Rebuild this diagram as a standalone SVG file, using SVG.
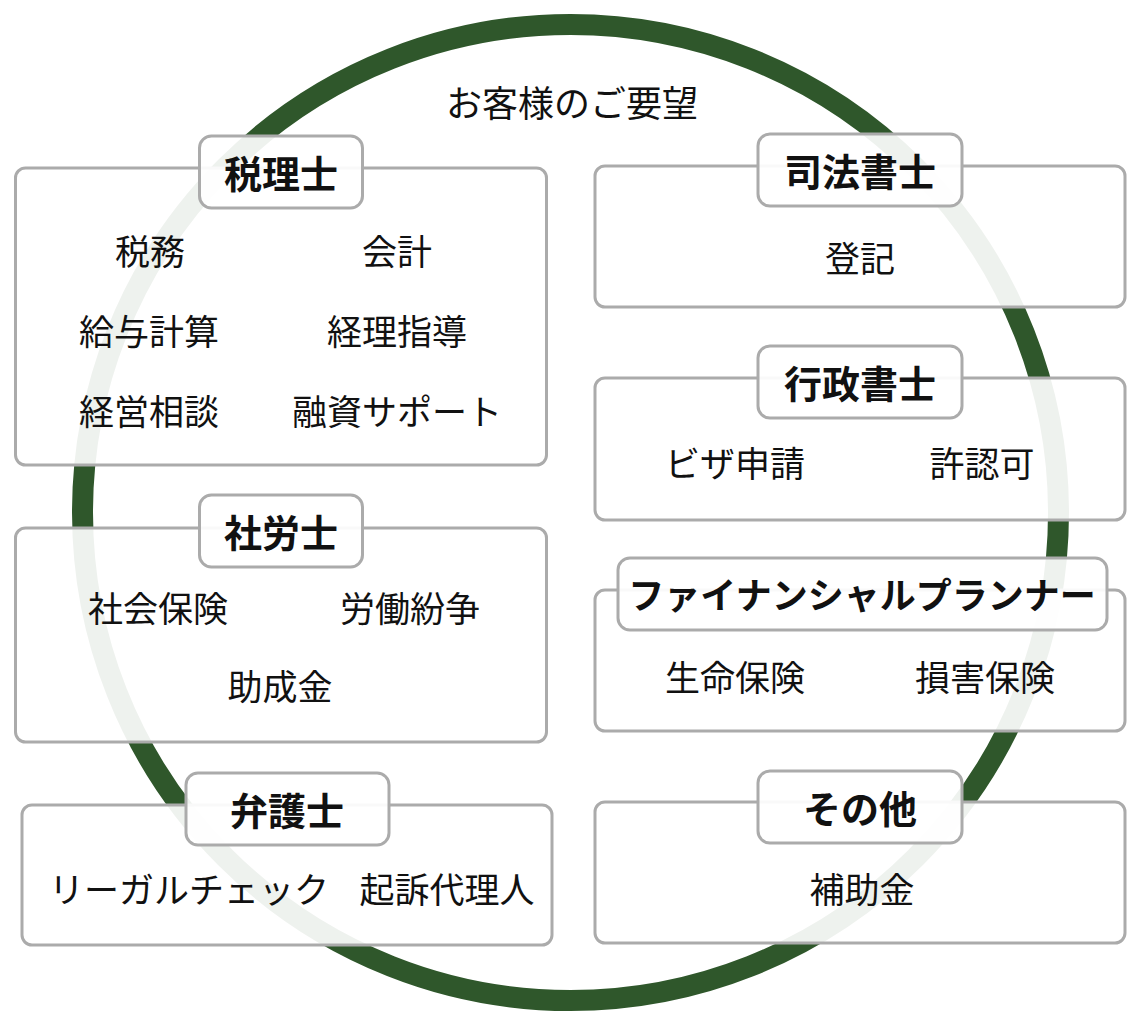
<svg xmlns="http://www.w3.org/2000/svg" width="1141" height="1026" viewBox="0 0 1141 1026">
<style>
.box{fill:#ffffff;fill-opacity:0.92;stroke:#ababab;stroke-width:3}
.lbl{fill:#ffffff;fill-opacity:0.92;stroke:#ababab;stroke-width:3}
.t{font-family:"Noto Sans CJK JP","Noto Sans CJK SC",sans-serif;font-size:35px;fill:#111;text-anchor:middle;dominant-baseline:central}
.h{font-family:"Noto Sans CJK JP","Noto Sans CJK SC",sans-serif;font-size:38px;font-weight:700;fill:#111;text-anchor:middle;dominant-baseline:central}
</style>
<rect width="1141" height="1026" fill="#ffffff"/>
<g id="ring">
<circle cx="570.5" cy="512.5" r="488" fill="none" stroke="#2f572b" stroke-width="21"/>
<text class="t" x="572" y="101" style="font-size:36px">お客様のご要望</text>
</g>
<g id="zeirishi">
<rect class="box" x="15.5" y="168" width="531" height="297" rx="10"/>
<rect class="lbl" x="199.5" y="136" width="163" height="72" rx="12"/>
<text class="h" x="281" y="171">税理士</text>
<text class="t" x="150" y="249">税務</text>
<text class="t" x="397" y="249">会計</text>
<text class="t" x="149" y="329">給与計算</text>
<text class="t" x="397" y="329">経理指導</text>
<text class="t" x="149" y="409">経営相談</text>
<text class="t" x="397" y="409">融資サポート</text>
</g>
<g id="sharoushi">
<rect class="box" x="15.5" y="528" width="531" height="214" rx="10"/>
<rect class="lbl" x="199.5" y="495" width="163" height="72" rx="12"/>
<text class="h" x="281" y="530">社労士</text>
<text class="t" x="158" y="606">社会保険</text>
<text class="t" x="410" y="606">労働紛争</text>
<text class="t" x="280" y="684">助成金</text>
</g>
<g id="bengoshi">
<rect class="box" x="22" y="805" width="530" height="140" rx="10"/>
<rect class="lbl" x="186" y="773" width="203" height="72" rx="12"/>
<text class="h" x="287" y="808">弁護士</text>
<text class="t" x="189" y="887">リーガルチェック</text>
<text class="t" x="447" y="887">起訴代理人</text>
</g>
<g id="shihoushoshi">
<rect class="box" x="595" y="166" width="530" height="141" rx="10"/>
<rect class="lbl" x="758" y="134" width="204" height="72" rx="12"/>
<text class="h" x="860" y="169">司法書士</text>
<text class="t" x="860" y="256">登記</text>
</g>
<g id="gyouseishoshi">
<rect class="box" x="595" y="378" width="530" height="142" rx="10"/>
<rect class="lbl" x="758" y="346" width="204" height="72" rx="12"/>
<text class="h" x="860" y="381">行政書士</text>
<text class="t" x="735" y="461">ビザ申請</text>
<text class="t" x="982" y="461">許認可</text>
</g>
<g id="fp">
<rect class="box" x="595" y="590" width="530" height="141" rx="10"/>
<rect class="lbl" x="618" y="558" width="489" height="72" rx="12"/>
<text class="h" x="862" y="593" style="font-size:36px">ファイナンシャルプランナー</text>
<text class="t" x="735" y="675">生命保険</text>
<text class="t" x="985" y="675">損害保険</text>
</g>
<g id="sonota">
<rect class="box" x="595" y="802" width="530" height="141" rx="10"/>
<rect class="lbl" x="758" y="771" width="204" height="72" rx="12"/>
<text class="h" x="860" y="806">その他</text>
<text class="t" x="862" y="887">補助金</text>
</g>
<g id="connectors"></g>
</svg>
